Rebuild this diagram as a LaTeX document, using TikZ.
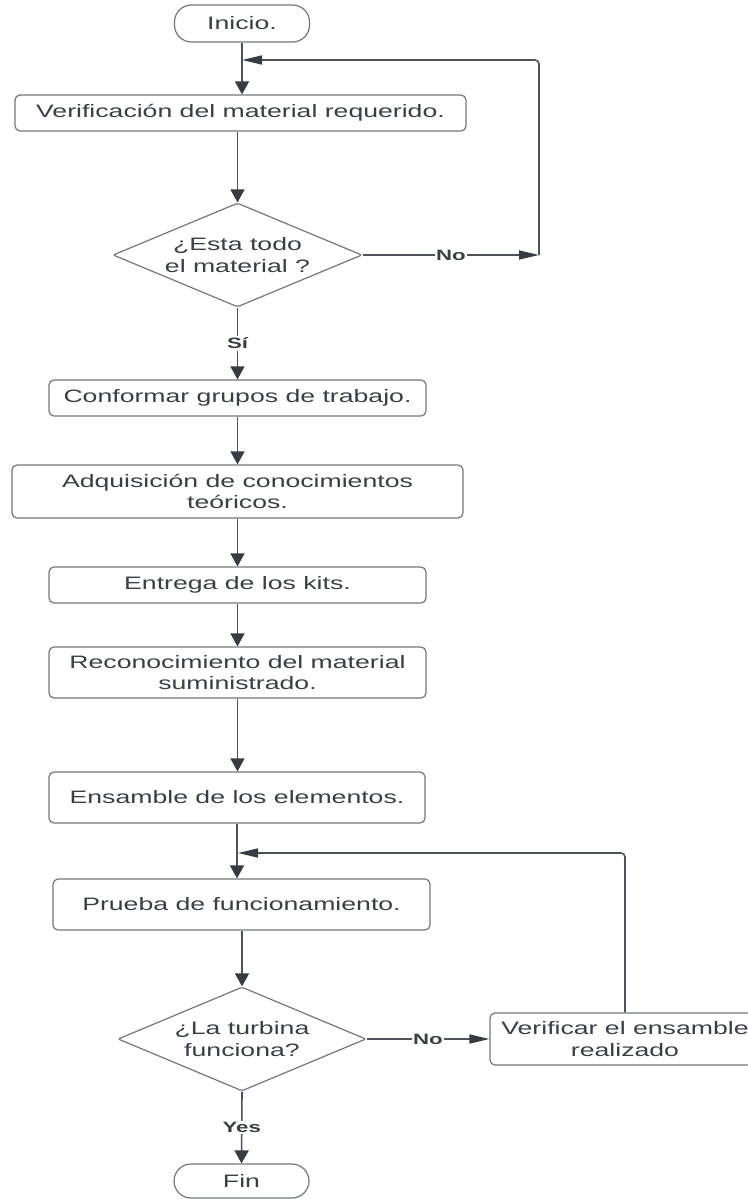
\documentclass[tikz,border=0pt]{standalone}
\usepackage{fontspec}
\setmainfont{Liberation Sans}[FakeStretch=1.48]
\usetikzlibrary{arrows.meta,shapes.geometric}
\definecolor{txt}{HTML}{3A3F47}
\definecolor{bord}{HTML}{72777F}
\definecolor{conn}{HTML}{4E535B}
\definecolor{tipc}{HTML}{373C44}
\begin{document}
\begin{tikzpicture}[x=1pt,y=-1pt,
  box/.style={draw=bord,line width=1.2pt,rounded corners=5pt,inner sep=0pt,align=center,text=txt,font=\fontsize{18}{21.5}\selectfont,minimum height=36pt},
  term/.style={box,rounded corners=17pt},
  dec/.style={draw=bord,line width=1.2pt,diamond,aspect=2.4,rounded corners=2pt,inner sep=0pt,align=center,text=txt,font=\fontsize{18}{21.5}\selectfont,minimum width=249pt,minimum height=104pt},
  cn/.style={draw=conn,line width=1.6pt},
  va/.style={cn,-{Triangle[length=13pt,width=14pt,color=tipc]}},
  ha/.style={cn,-{Triangle[length=20pt,width=9pt,color=tipc]}},
  lab/.style={fill=white,inner sep=1.5pt,text=txt,font=\fontsize{15}{18}\selectfont\bfseries}]
\fill[white] (0,0) rectangle (747,1199);
\useasboundingbox (0,0) rectangle (747,1199);

\node[term,minimum width=135pt,minimum height=37pt] (inicio) at (242,23.5) {Inicio.};
\node[box,minimum width=451pt] (verif) at (240.5,113) {Verificación del material requerido.};
\node[dec] (d1) at (237.5,255) {¿Esta todo\\el material ?};
\node[box,minimum width=377pt] (conf) at (237.5,398) {Conformar grupos de trabajo.};
\node[box,minimum width=451pt,minimum height=53pt] (adq) at (237.5,491.5) {Adquisición de conocimientos\\teóricos.};
\node[box,minimum width=377pt] (ent) at (237.5,585) {Entrega de los kits.};
\node[box,minimum width=377pt,minimum height=51pt] (rec) at (237.5,672.5) {Reconocimiento del material\\suministrado.};
\node[box,minimum width=376pt,minimum height=51pt] (ens) at (237,797.5) {Ensamble de los elementos.};
\node[box,minimum width=377pt,minimum height=51pt] (prueba) at (241.5,904.5) {Prueba de funcionamiento.};
\node[dec,minimum width=248pt] (d2) at (242,1039) {¿La turbina\\funciona?};
\node[box,minimum width=270pt,minimum height=52pt] (verif2) at (625,1039) {Verificar el ensamble\\realizado};
\node[term,minimum width=135pt,minimum height=34pt] (fin) at (241.5,1181) {Fin};

\coordinate (c1) at (539,255);
\coordinate (c2) at (539,60);
\coordinate (c3) at (242,60);
\coordinate (c4) at (625,853);
\coordinate (c5) at (238,853);

\draw[va] (inicio.south) -- (inicio.south |- verif.north);
\draw[ha] (d1.east) -- node[lab]{No} (c1);
\draw[ha,rounded corners=4pt] (c1) -- (c2) -- (c3);
\draw[va] (d1.north |- verif.south) -- (d1.north);
\draw[va] (d1.south) -- node[lab]{Sí} (conf.north);
\draw[va] (conf.south) -- (adq.north);
\draw[va] (adq.south) -- (ent.north);
\draw[va] (ent.south) -- (rec.north);
\draw[va] (rec.south) -- (rec.south |- ens.north);
\draw[va] (ens.south) -- (ens.south |- prueba.north);
\draw[va] (d2.north |- prueba.south) -- (d2.north);
\draw[ha] (d2.east) -- node[lab]{No} (verif2.west);
\draw[ha,rounded corners=4pt] (verif2.north) -- (c4) -- (c5);
\draw[va] (d2.south) -- node[lab]{Yes} (fin.north);
\end{tikzpicture}
\end{document}
